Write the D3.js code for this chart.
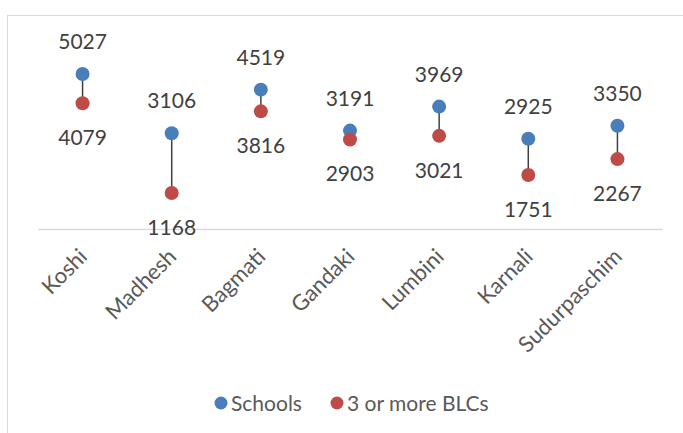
<!DOCTYPE html>
<html>
<head>
<meta charset="utf-8">
<script src="https://cdn.jsdelivr.net/npm/d3@7"></script>
<style>
  body { margin: 0; background: #fff; }
  text { font-family: Lato, "Open Sans", sans-serif; }
</style>
</head>
<body>
<svg id="chart" width="683" height="433"></svg>
<script>
const provinces = ["Koshi", "Madhesh", "Bagmati", "Gandaki", "Lumbini", "Karnali", "Sudurpaschim"];
const schools = [5027, 3106, 4519, 3191, 3969, 2925, 3350];
const blcs = [4079, 1168, 3816, 2903, 3021, 1751, 2267];
const seriesNames = ["Schools", "3 or more BLCs"];

const colors = { schools: "#4a7ebb", blcs: "#be4b48" };
const fontSize = 21;

const svg = d3.select("#chart");

// chart border
svg.append("rect")
   .attr("x", 7.5).attr("y", 15.5)
   .attr("width", 700).attr("height", 440)
   .attr("fill", "none")
   .attr("stroke", "#d9d9d9");

const plot = { left: 38, right: 662, top: 44, bottom: 229 };

const x = d3.scaleBand().domain(provinces).range([plot.left, plot.right]);
const y = d3.scaleLinear().domain([0, 6000]).range([plot.bottom, plot.top]);

const data = provinces.map((p, i) => ({ p, s: schools[i], b: blcs[i] }));
const cx = d => x(d.p) + x.bandwidth() / 2;

// connector lines
svg.append("g").selectAll("line")
   .data(data).join("line")
   .attr("x1", cx).attr("x2", cx)
   .attr("y1", d => y(d.s)).attr("y2", d => y(d.b))
   .attr("stroke", "#404040")
   .attr("stroke-width", 1.5);

// axis
const xAxis = svg.append("g")
   .attr("transform", `translate(0,${plot.bottom})`)
   .call(d3.axisBottom(x).tickSize(0).tickPadding(0));
xAxis.select(".domain").attr("stroke", "#d9d9d9").attr("stroke-width", 1.5);
xAxis.selectAll(".tick text")
     .attr("font-size", 22)
     .attr("fill", "#595959")
     .attr("text-anchor", "end")
     .attr("dy", null)
     .attr("transform", "translate(6,29) rotate(-45)")
     .attr("y", 0).attr("x", 0);

// points
svg.append("g").selectAll("circle")
   .data(data).join("circle")
   .attr("cx", cx).attr("cy", d => y(d.s)).attr("r", 7)
   .attr("fill", colors.schools);
svg.append("g").selectAll("circle")
   .data(data).join("circle")
   .attr("cx", cx).attr("cy", d => y(d.b)).attr("r", 7)
   .attr("fill", colors.blcs);

// value labels
svg.append("g").selectAll("text")
   .data(data).join("text")
   .attr("x", cx).attr("y", d => y(d.s) - 25)
   .attr("text-anchor", "middle")
   .attr("font-size", fontSize).attr("fill", "#404040")
   .text(d => d.s);
svg.append("g").selectAll("text")
   .data(data).join("text")
   .attr("x", cx).attr("y", d => y(d.b) + 42)
   .attr("text-anchor", "middle")
   .attr("font-size", fontSize).attr("fill", "#404040")
   .text(d => d.b);

// legend
const legend = svg.append("g").attr("transform", "translate(221,403)");
const legendItems = [
  { name: seriesNames[0], color: colors.schools, x: 0 },
  { name: seriesNames[1], color: colors.blcs, x: 116 }
];
legendItems.forEach(d => {
  legend.append("circle").attr("cx", d.x).attr("cy", 0).attr("r", 6.5).attr("fill", d.color);
  legend.append("text").attr("x", d.x + 10).attr("y", 8)
        .attr("font-size", fontSize).attr("fill", "#595959").text(d.name);
});
</script>
</body>
</html>
